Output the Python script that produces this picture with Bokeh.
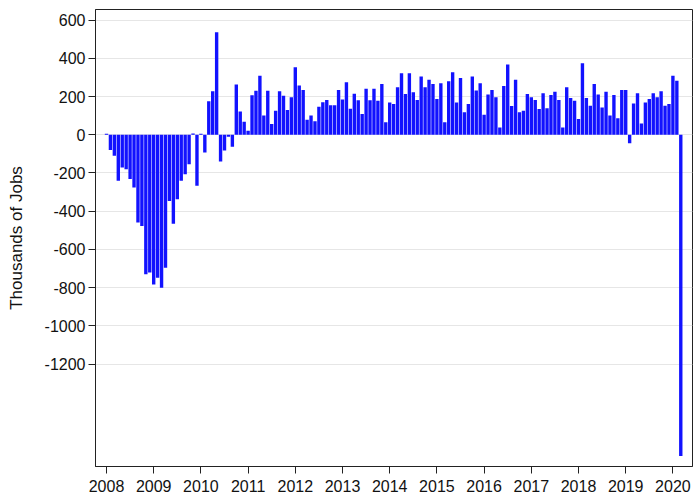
from bokeh.plotting import figure
from bokeh.models import FixedTicker, ColumnDataSource, Range1d
from bokeh.embed import file_html
from bokeh.resources import INLINE

# Monthly change in nonfarm payrolls, thousands of jobs
years = [2008, 2009, 2010, 2011, 2012, 2013, 2014, 2015, 2016, 2017, 2018, 2019, 2020]
jobs_2008 = [5, -80, -110, -241, -171, -180, -232, -276, -459, -477, -730, -720]
jobs_2009 = [-783, -748, -800, -695, -346, -465, -337, -241, -206, -154, 7, -267]
jobs_2010 = [5, -93, 175, 227, 536, -140, -82, -10, -63, 263, 122, 68]
jobs_2011 = [21, 207, 230, 309, 100, 230, 56, 126, 227, 204, 130, 196]
jobs_2012 = [353, 257, 234, 78, 100, 70, 147, 170, 182, 154, 154, 234]
jobs_2013 = [184, 274, 136, 215, 180, 108, 240, 180, 240, 178, 266, 65]
jobs_2014 = [169, 161, 248, 321, 213, 321, 222, 182, 304, 248, 287, 266]
jobs_2015 = [187, 269, 65, 280, 327, 169, 297, 117, 161, 304, 231, 269]
jobs_2016 = [105, 210, 234, 196, 38, 255, 367, 150, 287, 117, 126, 213]
jobs_2017 = [196, 182, 134, 217, 138, 208, 225, 182, 38, 248, 192, 178]
jobs_2018 = [82, 374, 192, 152, 266, 210, 143, 225, 100, 208, 86, 234]
jobs_2019 = [234, -45, 164, 217, 59, 169, 187, 217, 196, 227, 152, 161]
jobs_2020 = [309, 283, -1680]

y_ticks = [600, 400, 200, 0, -200, -400, -600, -800, -1000, -1200]
y_tick_labels = ["600", "400", "200", "0", "-200", "-400", "-600", "-800", "-1000", "-1200"]
x_ticks = years

series = [jobs_2008, jobs_2009, jobs_2010, jobs_2011, jobs_2012, jobs_2013, jobs_2014,
          jobs_2015, jobs_2016, jobs_2017, jobs_2018, jobs_2019, jobs_2020]

xs, ys = [], []
for yr, vals in zip(years, series):
    for i, v in enumerate(vals):
        xs.append(yr + i / 12.0)
        ys.append(v)

src = ColumnDataSource(data=dict(x=xs, top=ys))

p = figure(width=694, height=497,
           x_range=Range1d(2007.767, 2020.415), y_range=Range1d(-1735, 655),
           output_backend="svg", toolbar_location=None,
           min_border_left=95, min_border_right=2, min_border_top=9, min_border_bottom=31)

p.vbar(x="x", top="top", bottom=0, width=0.86 / 12, source=src,
       fill_color="#1212ff", line_color=None)

FONT = "Liberation Sans"
p.outline_line_color = "#222222"
p.outline_line_width = 1
p.background_fill_color = "white"
p.border_fill_color = "white"

p.xgrid.grid_line_color = None
p.ygrid.grid_line_color = "#e6e6e6"
p.ygrid.ticker = FixedTicker(ticks=y_ticks)

p.yaxis.ticker = FixedTicker(ticks=y_ticks)
p.yaxis.major_label_overrides = dict(zip(y_ticks, y_tick_labels))
p.xaxis.ticker = FixedTicker(ticks=x_ticks)
for ax in (p.xaxis[0], p.yaxis[0]):
    ax.axis_line_color = "#222222"
    ax.major_tick_line_color = "#222222"
    ax.minor_tick_line_color = None
    ax.major_tick_in = 0
    ax.major_tick_out = 7
    ax.major_label_text_font = FONT
    ax.major_label_text_font_size = "16px"
    ax.major_label_text_color = "#111111"
    ax.major_label_standoff = 3
p.xaxis.major_label_standoff = 6

p.yaxis.axis_label = "Thousands of Jobs"
p.yaxis.axis_label_text_font = FONT
p.yaxis.axis_label_text_font_size = "17px"
p.yaxis.axis_label_text_font_style = "normal"
p.yaxis.axis_label_text_color = "#111111"
p.yaxis.axis_label_standoff = 16

open("out.html", "w").write(file_html(p, INLINE))
